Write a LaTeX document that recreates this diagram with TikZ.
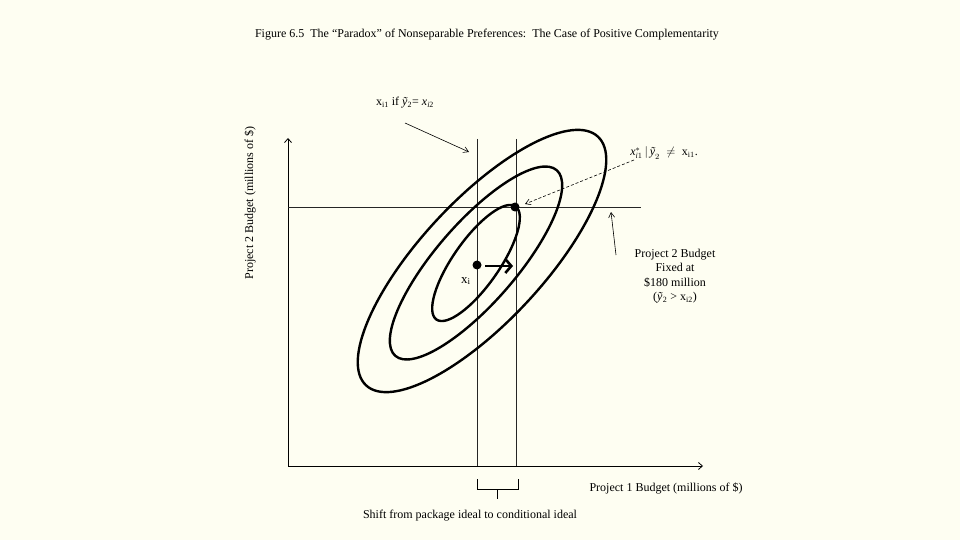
\documentclass[tikz,border=0pt]{standalone}
\usepackage{amsmath}
\usepackage{fontspec}
\setmainfont{Liberation Serif}
\usetikzlibrary{arrows.meta}
\definecolor{bg}{RGB}{254,254,242}
\begin{document}
\begin{tikzpicture}[x=1pt,y=-1pt,
  every node/.style={font=\fontsize{12}{14.3}\selectfont, inner sep=0pt},
  thinline/.style={line width=0.7pt, black!85},
  axis/.style={line width=0.8pt, -{Straight Barb[length=4pt,width=7pt]}},
  curve/.style={line width=2.4pt},
  note/.style={line width=0.6pt, -{Straight Barb[length=5pt,width=6pt]}},
  dot/.style={circle, fill=black, minimum size=9pt, inner sep=0pt}]
\fill[bg] (0,0) rectangle (960,540);
\useasboundingbox (0,0) rectangle (960,540);

% title
\node (title) at (487,35) {Figure 6.5\ \ The “Paradox” of Nonseparable Preferences:\ \ The Case of Positive Complementarity};

% axes
\coordinate (O) at (288,466);
\coordinate (Ytop) at (288,138);
\coordinate (Xend) at (703,466);
\draw[axis] (O) -- (Ytop);
\draw[axis] (O) -- (Xend);

% guide lines
\coordinate (v1t) at (477,139); \coordinate (v1b) at (477,466);
\coordinate (v2t) at (516,139); \coordinate (v2b) at (516,466);
\coordinate (h1) at (288,207); \coordinate (h2) at (641,207);
\draw[thinline] (v1t) -- (v1b);
\draw[thinline] (v2t) -- (v2b);
\draw[thinline] (h1) -- (h2);

% indifference curves
\draw[curve, rotate around={47:(482,261)}] (482,261) ellipse [x radius=170pt, y radius=61pt];
\draw[curve, rotate around={49:(476,263)}] (476,263) ellipse [x radius=123pt, y radius=40pt];
\draw[curve, rotate around={55:(476,263)}] (476,263) ellipse [x radius=69pt, y radius=23pt];

% ideal points
\node[dot] (xi) at (477,265) {};
\node[dot] (xs) at (515,207) {};
\coordinate (sa) at (485,266);
\coordinate (sb) at (513,266);
\draw[line width=2.6pt, -{Straight Barb[length=6pt,width=14pt]}] (sa) -- (sb);
\node[font=\fontsize{13}{15}\selectfont] (xilbl) at (466,281) {x\textsubscript{i}};

% annotation 1
\node (lblA) at (405,103) {x\textsubscript{i1} if \textit{ỹ}\textsubscript{2}= \textit{x}\textsubscript{\textit{i}2}};
\coordinate (a1s) at (405,123);
\coordinate (a1e) at (469,152);
\draw[note] (a1s) -- (a1e);

% annotation 2
\node (lblB) at (664,153) {$\textit{x}^{*}_{\textit{i}1}\,|\,\textit{ỹ}_{2}\ \neq\ \mathrm{x}_{\mathrm{i}1}$.};
\coordinate (b1s) at (634,160);
\coordinate (b1e) at (525,204);
\draw[note, dash pattern=on 3pt off 2pt] (b1s) -- (b1e);

% annotation 3
\node[align=center] (lblC) at (675,276) {Project 2 Budget\\Fixed at\\\$180 million\\(\textit{ỹ}\textsubscript{2}\ >\ x\textsubscript{i2})};
\coordinate (c1s) at (616,255);
\coordinate (c1e) at (611,212);
\draw[note] (c1s) -- (c1e);

% axis labels
\node[rotate=90] (ylab) at (250,203) {Project 2 Budget (millions of \$)};
\node (xlab) at (666,488) {Project 1 Budget (millions of \$)};

% brace
\coordinate (br1) at (477,479);
\coordinate (br2) at (518,479);
\coordinate (brm) at (497.5,489);
\coordinate (brs) at (497.5,499);
\draw[line width=0.7pt] (br1) -- (477,489) -- (518,489) -- (br2);
\draw[line width=0.7pt] (brm) -- (brs);
\node (shift) at (470,516) {Shift from package ideal to conditional ideal};
\end{tikzpicture}
\end{document}
